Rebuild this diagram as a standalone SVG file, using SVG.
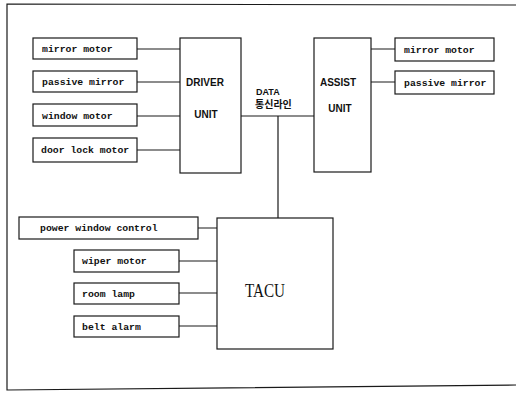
<svg xmlns="http://www.w3.org/2000/svg" width="516" height="396" viewBox="0 0 516 396">
<style>
.b{fill:#fff;stroke:#1a1a1a;stroke-width:1.2}
.t{font-family:"Liberation Mono",monospace;font-weight:bold;font-size:9.8px;fill:#111}
.u{font-family:"Liberation Sans",Arial,sans-serif;font-weight:bold;font-size:10px;fill:#111;text-anchor:middle}
.c{stroke:#1a1a1a;stroke-width:1.2;fill:none}
</style>
<rect width="516" height="396" fill="#fff"/>
<path class="c" d="M516,5 L7,4 L7,390 L516,385"/>
<g id="connectors">
<path class="c" d="M137,49H180M137,82H180M137,116H180M137,150H180"/>
<path class="c" d="M241,116H314M278,116V218"/>
<path class="c" d="M371,49H395M371,82H395"/>
<path class="c" d="M198,228H217M179,261H217M179,293H217M179,326H217"/>
</g>
<g id="l-mirror-motor"><rect class="b" x="33" y="38" width="104" height="21"/><text class="t" x="42" y="52">mirror motor</text></g>
<g id="l-passive-mirror"><rect class="b" x="33" y="71" width="104" height="21"/><text class="t" x="42" y="85">passive mirror</text></g>
<g id="l-window-motor"><rect class="b" x="33" y="104" width="104" height="22"/><text class="t" x="42" y="119">window motor</text></g>
<g id="l-door-lock-motor"><rect class="b" x="33" y="138" width="104" height="24"/><text class="t" x="41" y="153">door lock motor</text></g>
<g id="driver-unit"><rect class="b" x="180" y="38" width="61" height="135"/><text class="u" x="205" y="86">DRIVER</text><text class="u" x="206" y="118">UNIT</text></g>
<g id="data-label"><text class="u" x="256" y="95" style="text-anchor:start;font-size:9px">DATA</text><text x="255" y="107.5" style="font-family:'Noto Sans CJK KR',sans-serif;font-weight:bold;font-size:10px;fill:#111">통신라인</text></g>
<g id="assist-unit"><rect class="b" x="314" y="38" width="57" height="134"/><text class="u" x="338" y="86">ASSIST</text><text class="u" x="340" y="112">UNIT</text></g>
<g id="r-mirror-motor"><rect class="b" x="395" y="38" width="99" height="23"/><text class="t" x="404" y="53">mirror motor</text></g>
<g id="r-passive-mirror"><rect class="b" x="395" y="71" width="99" height="23"/><text class="t" x="404" y="86">passive mirror</text></g>
<g id="tacu"><rect class="b" x="217" y="218" width="116" height="131"/><text x="265" y="297" text-anchor="middle" textLength="40" lengthAdjust="spacingAndGlyphs" style="font-family:'Liberation Serif',serif;font-size:19px;fill:#111">TACU</text></g>
<g id="power-window-control"><rect class="b" x="19" y="217" width="179" height="22"/><text class="t" x="40" y="231">power window control</text></g>
<g id="wiper-motor"><rect class="b" x="74" y="250" width="105" height="22"/><text class="t" x="82" y="264">wiper motor</text></g>
<g id="room-lamp"><rect class="b" x="74" y="283" width="105" height="21"/><text class="t" x="82" y="297">room lamp</text></g>
<g id="belt-alarm"><rect class="b" x="74" y="316" width="105" height="21"/><text class="t" x="82" y="330">belt alarm</text></g>
</svg>
